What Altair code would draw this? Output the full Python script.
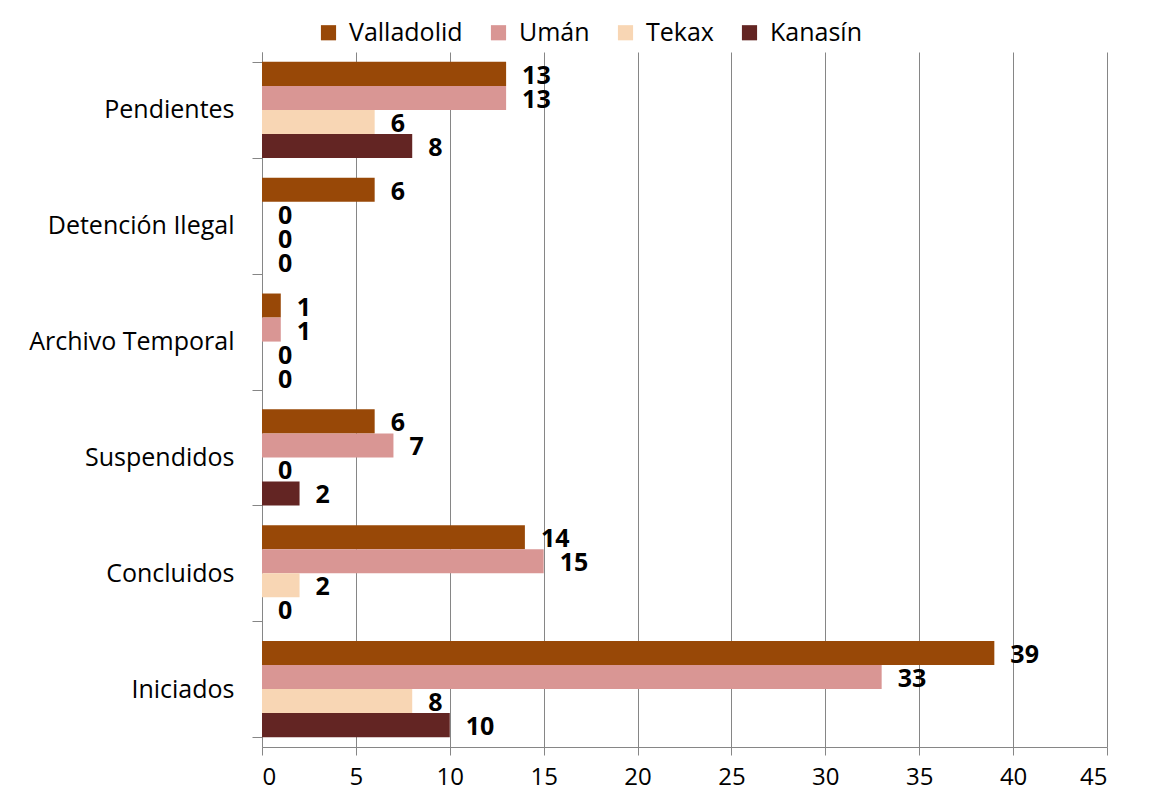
import altair as alt
import pandas as pd

categories = ["Pendientes", "Detención Ilegal", "Archivo Temporal", "Suspendidos", "Concluidos", "Iniciados"]
series = ["Valladolid", "Umán", "Tekax", "Kanasín"]
colors = ["#984807", "#D99694", "#F8D6B4", "#632523"]
valladolid = [13, 6, 1, 6, 14, 39]
uman = [13, 0, 1, 7, 15, 33]
tekax = [6, 0, 0, 0, 2, 8]
kanasin = [8, 0, 0, 2, 0, 10]
x_ticks = [0, 5, 10, 15, 20, 25, 30, 35, 40, 45]

rows = []
for s, vals in zip(series, [valladolid, uman, tekax, kanasin]):
    for c, v in zip(categories, vals):
        rows.append({"Categoria": c, "Municipio": s, "Valor": v})
df = pd.DataFrame(rows)

FONT = "Open Sans"
GRID = "#868686"

y_enc = alt.Y(
    "Categoria:N",
    sort=categories,
    scale=alt.Scale(paddingInner=0.17, paddingOuter=0.085),
    axis=alt.Axis(
        title=None,
        tickBand="extent",
        tickSize=10,
        tickColor=GRID,
        domainColor=GRID,
        labelPadding=18,
        labelFontSize=25,
        labelFont=FONT,
        labelColor="#000000",
        labelLimit=400,
        grid=False,
    ),
)
x_enc = alt.X(
    "Valor:Q",
    scale=alt.Scale(domain=[0, 45], nice=False),
    axis=alt.Axis(
        title=None,
        values=x_ticks,
        tickSize=8,
        tickColor=GRID,
        domainColor=GRID,
        gridColor=GRID,
        gridOpacity=1,
        labelPadding=10,
        labelFontSize=24,
        labelFont=FONT,
        labelColor="#000000",
    ),
)
yoff = alt.YOffset("Municipio:N", sort=series)

bars = alt.Chart(df).mark_bar().encode(
    y=y_enc,
    x=x_enc,
    yOffset=yoff,
    color=alt.Color(
        "Municipio:N",
        sort=series,
        scale=alt.Scale(domain=series, range=colors),
        legend=alt.Legend(
            title=None,
            orient="none",
            direction="horizontal",
            legendX=54,
            legendY=-32,
            symbolType="square",
            symbolSize=230,
            symbolStrokeWidth=0,
            labelFontSize=25,
            labelFont=FONT,
            labelColor="#000000",
            labelOffset=8,
            columnPadding=23,
        ),
    ),
)

labels = alt.Chart(df).mark_text(
    align="left", baseline="middle", dx=16, dy=2, fontSize=25, fontWeight="bold", font=FONT, color="#000000"
).encode(
    y=alt.Y("Categoria:N", sort=categories),
    x=alt.X("Valor:Q"),
    yOffset=yoff,
    text=alt.Text("Valor:Q"),
)

chart = (
    alt.layer(bars, labels)
    .properties(
        width=845,
        height=695,
        autosize=alt.AutoSizeParams(type="none"),
        padding={"left": 254, "top": 44, "right": 36, "bottom": 44},
        background="#ffffff",
    )
    .configure_view(strokeWidth=0)
)

chart.save("out.html", embed_options={"renderer": "svg", "actions": False})
